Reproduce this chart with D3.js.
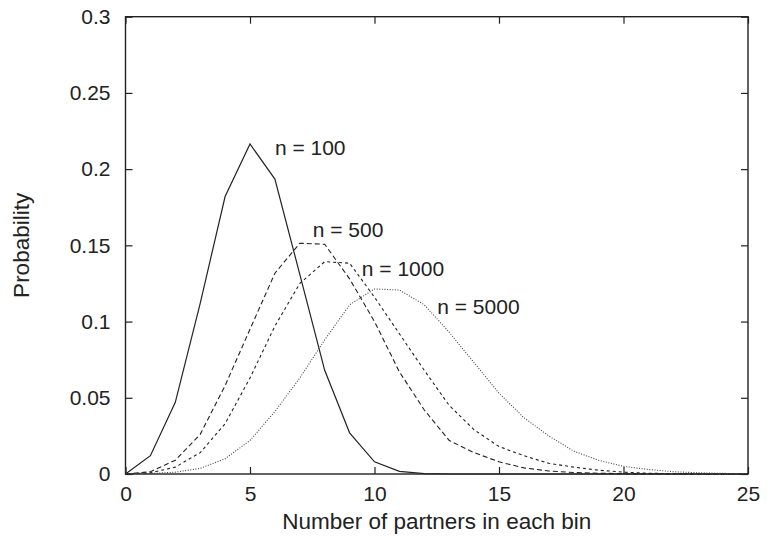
<!DOCTYPE html>
<html>
<head>
<meta charset="utf-8">
<script src="https://cdn.jsdelivr.net/npm/d3@7"></script>
<style>
  body { margin: 0; background: #fff; }
  svg text { font-family: "Liberation Sans", Arial, Helvetica, sans-serif; fill: #222; }
</style>
</head>
<body>
<div id="chart"></div>
<script>
// partners per bin (x) and probability for each n
const partners = d3.range(0, 26);
const p100  = [0, 0.012, 0.047, 0.112, 0.182, 0.2165, 0.1935, 0.131, 0.068, 0.027, 0.008, 0.0017, 0.0003, 0, 0, 0, 0, 0, 0, 0, 0, 0, 0, 0, 0, 0];
const p500  = [0, 0.0015, 0.009, 0.026, 0.058, 0.095, 0.1317, 0.1514, 0.1507, 0.128, 0.1, 0.067, 0.042, 0.022, 0.014, 0.008, 0.004, 0.002, 0.001, 0.0005, 0.0002, 0, 0, 0, 0, 0];
const p1000 = [0, 0.0008, 0.0045, 0.014, 0.033, 0.063, 0.097, 0.125, 0.1393, 0.1383, 0.116, 0.092, 0.068, 0.045, 0.029, 0.018, 0.012, 0.007, 0.0045, 0.0025, 0.0012, 0.0005, 0.0002, 0, 0, 0];
const p5000 = [0, 0.0003, 0.0012, 0.0037, 0.01, 0.022, 0.041, 0.063, 0.088, 0.111, 0.1214, 0.1207, 0.111, 0.093, 0.073, 0.053, 0.037, 0.025, 0.015, 0.009, 0.005, 0.003, 0.0015, 0.0008, 0.0004, 0.0002];

const seriesNames = ["n = 100", "n = 500", "n = 1000", "n = 5000"];
const seriesDash  = [null, "5,3", "3,3", "1,1.6"];
// label anchor in data units (x, probability)
const labelX = [6.0, 7.52, 9.49, 12.52];
const labelY = [0.2093, 0.1555, 0.130, 0.105];

const xTicks = [0, 5, 10, 15, 20, 25];
const yTicks = [0, 0.05, 0.1, 0.15, 0.2, 0.25, 0.3];

const width = 770, height = 548;
const margin = {top: 16.7, right: 22, bottom: 74, left: 125.5};

const svg = d3.select("#chart").append("svg")
    .attr("width", width)
    .attr("height", height);

const x = d3.scaleLinear().domain([0, 25]).range([margin.left, width - margin.right]);
const y = d3.scaleLinear().domain([0, 0.3]).range([height - margin.bottom, margin.top]);

const fmtY = d => d === 0 ? "0" : String(d);

// bottom axis, ticks pointing inward
svg.append("g")
    .attr("transform", `translate(0,${y(0)})`)
    .call(d3.axisBottom(x).tickValues(xTicks).tickSizeInner(-7).tickSizeOuter(0).tickPadding(12))
    .call(g => g.select(".domain").remove());

svg.append("g")
    .attr("transform", `translate(0,${y(0.3)})`)
    .call(d3.axisTop(x).tickValues(xTicks).tickSizeInner(-7).tickSizeOuter(0).tickFormat(""))
    .call(g => g.select(".domain").remove());

svg.append("g")
    .attr("transform", `translate(${x(0)},0)`)
    .call(d3.axisLeft(y).tickValues(yTicks).tickFormat(fmtY).tickSizeInner(-7).tickSizeOuter(0).tickPadding(15))
    .call(g => g.select(".domain").remove());

svg.append("g")
    .attr("transform", `translate(${x(25)},0)`)
    .call(d3.axisRight(y).tickValues(yTicks).tickSizeInner(-7).tickSizeOuter(0).tickFormat(""))
    .call(g => g.select(".domain").remove());

svg.selectAll(".tick line").attr("stroke", "#222").attr("stroke-width", 1.2);
svg.selectAll(".tick text").style("font-size", "21px");

// frame
svg.append("rect")
    .attr("x", x(0))
    .attr("y", y(0.3))
    .attr("width", x(25) - x(0))
    .attr("height", y(0) - y(0.3))
    .attr("fill", "none")
    .attr("stroke", "#222")
    .attr("stroke-width", 1.4);

const series = [p100, p500, p1000, p5000];

const line = d3.line()
    .x((d, i) => x(partners[i]))
    .y(d => y(d));

svg.selectAll(".series")
    .data(series)
    .enter().append("path")
    .attr("class", "series")
    .attr("d", line)
    .attr("fill", "none")
    .attr("stroke", (d, i) => i === 3 ? "#444" : "#222")
    .attr("stroke-width", (d, i) => i === 0 ? 1.2 : 1.1)
    .attr("stroke-dasharray", (d, i) => seriesDash[i]);

svg.selectAll(".series-label")
    .data(seriesNames)
    .enter().append("text")
    .attr("class", "series-label")
    .attr("x", (d, i) => x(labelX[i]))
    .attr("y", (d, i) => y(labelY[i]))
    .style("font-size", "21px")
    .text(d => d);

// axis titles
svg.append("text")
    .attr("x", (x(0) + x(25)) / 2)
    .attr("y", 529)
    .attr("text-anchor", "middle")
    .style("font-size", "22.5px")
    .text("Number of partners in each bin");

svg.append("text")
    .attr("transform", `translate(29,${(y(0) + y(0.3)) / 2}) rotate(-90)`)
    .attr("text-anchor", "middle")
    .style("font-size", "22.5px")
    .text("Probability");
</script>
</body>
</html>
